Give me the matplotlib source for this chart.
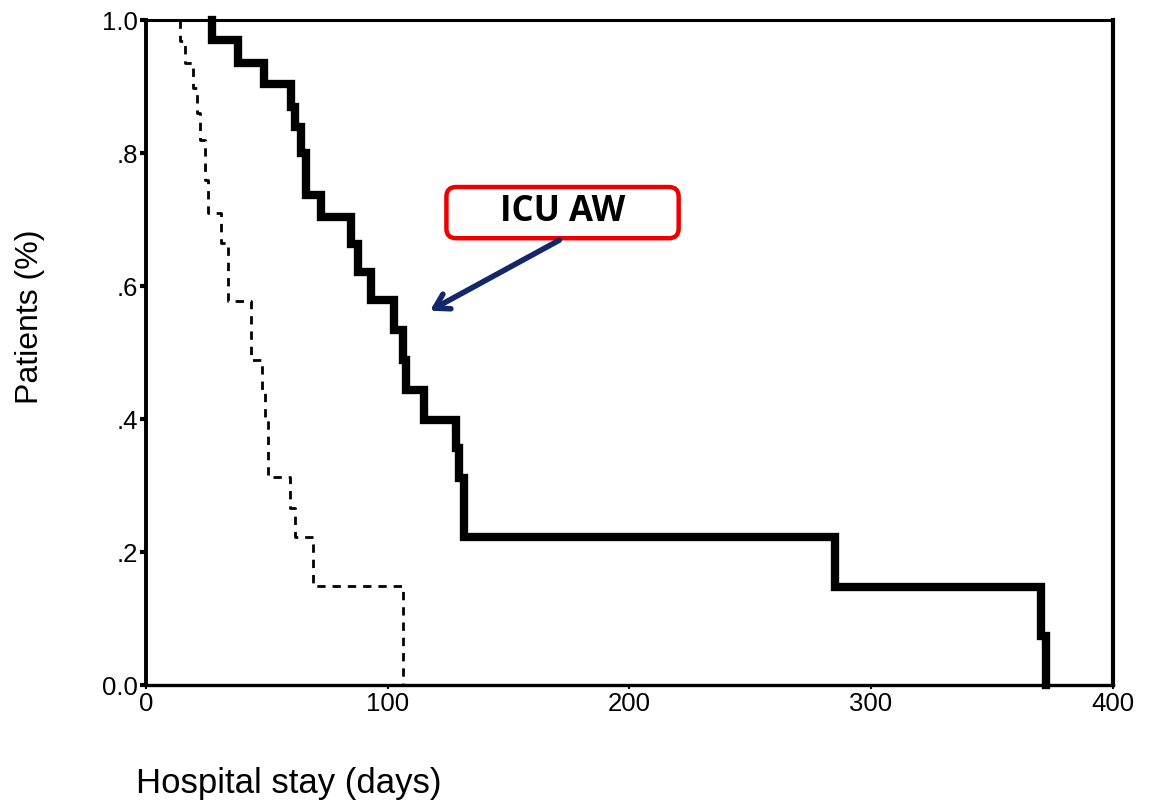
import numpy as np
import matplotlib.pyplot as plt
from matplotlib.patches import FancyBboxPatch

plt.rcParams["font.family"] = ["Liberation Sans", "DejaVu Sans"]

# ICU acquired weakness group (solid line): step times (days) and surviving fraction
icuaw_days = [27.5, 27.5, 38.0, 48.7, 60.1, 61.5, 64.3, 66.3, 72.5, 85.0, 87.6,
              93.2, 102.8, 106.5, 107.7, 115.2, 128.3, 129.6, 131.7, 285.1,
              370.4, 372.5]
icuaw_frac = [1.0, 0.97, 0.936, 0.904, 0.87, 0.84, 0.80, 0.737, 0.704, 0.664,
              0.621, 0.579, 0.534, 0.489, 0.444, 0.398, 0.356, 0.311, 0.223,
              0.148, 0.074, 0.0]

# control group (dashed line)
ctrl_days = [14.0, 14.0, 16.1, 19.5, 21.0, 22.3, 24.5, 25.7, 31.2, 33.8, 43.6,
             47.8, 49.3, 50.5, 59.4, 61.5, 69.1, 106.2]
ctrl_frac = [1.0, 0.968, 0.935, 0.898, 0.86, 0.82, 0.76, 0.71, 0.665, 0.578,
             0.489, 0.444, 0.40, 0.313, 0.266, 0.223, 0.149, 0.0]

xticks = [0, 100, 200, 300, 400]
yticks = [0.0, 0.2, 0.4, 0.6, 0.8, 1.0]
ytick_labels = ["0.0", ".2", ".4", ".6", ".8", "1.0"]

fig = plt.figure(figsize=(11.55, 8.05), dpi=100)
ax = fig.add_axes([0.1264, 0.149, 0.837, 0.826])

ax.step(icuaw_days, icuaw_frac, where="post", color="black", lw=6.0,
        solid_joinstyle="miter", clip_on=False, zorder=3)
ax.step(ctrl_days, ctrl_frac, where="post", color="black", lw=2.0,
        linestyle=(0, (3, 2.5)), clip_on=False, zorder=3)

ax.set_xlim(0, 400)
ax.set_ylim(0, 1.0)
ax.set_xticks(xticks)
ax.set_xticklabels([str(t) for t in xticks])
ax.set_yticks(yticks)
ax.set_yticklabels(ytick_labels)
ax.tick_params(axis="both", labelsize=18.5, direction="out", width=3, length=4,
               pad=2)
ax.tick_params(axis="x", length=3, width=1.5)

ax.spines["left"].set_linewidth(2.8)
ax.spines["bottom"].set_linewidth(2.4)
ax.spines["top"].set_linewidth(2.2)
ax.spines["right"].set_linewidth(3.0)

fig.text(0.118, 0.027, "Hospital stay (days)", fontsize=25, ha="left",
         va="center")
fig.text(0.026, 0.606, "Patients (%)", fontsize=23, rotation=90, ha="center",
         va="center")

# annotation: red rounded label with navy arrow
box = FancyBboxPatch((124.3, 0.672), 96.1, 0.077,
                     boxstyle="round,pad=0,rounding_size=4",
                     mutation_aspect=0.00364, facecolor="white",
                     edgecolor="#ee0000", lw=3.2, zorder=4)
ax.add_patch(box)
ax.text(172.3, 0.711, "ICU AW", fontsize=25, fontweight="bold",
        family=["Open Sans", "DejaVu Sans"], ha="center", va="center",
        zorder=5)
ax.annotate("", xy=(117.5, 0.563), xytext=(171.0, 0.669),
            arrowprops=dict(arrowstyle="->,head_length=1.0,head_width=0.6",
                            lw=4, color="#13286a", shrinkA=0, shrinkB=0),
            zorder=5)

fig.savefig("out.png", dpi=100)
